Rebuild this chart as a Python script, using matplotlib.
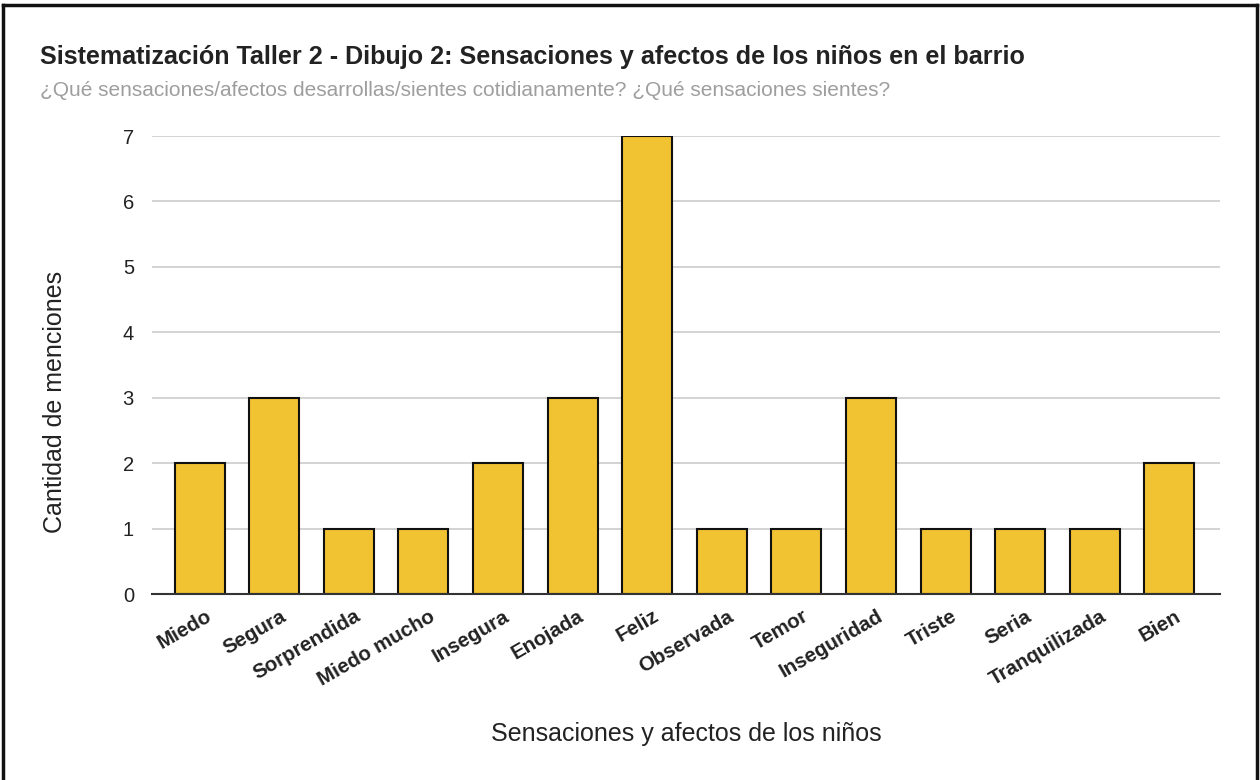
import matplotlib
matplotlib.use("Agg")
import matplotlib.pyplot as plt
from matplotlib.lines import Line2D
from matplotlib.transforms import ScaledTranslation

categories = ["Miedo", "Segura", "Sorprendida", "Miedo mucho", "Insegura", "Enojada",
              "Feliz", "Observada", "Temor", "Inseguridad", "Triste", "Seria",
              "Tranquilizada", "Bien"]
menciones = [2, 3, 1, 1, 2, 3, 7, 1, 1, 3, 1, 1, 1, 2]
y_ticks = [0, 1, 2, 3, 4, 5, 6, 7]

title = "Sistematización Taller 2 - Dibujo 2: Sensaciones y afectos de los niños en el barrio"
subtitle = "¿Qué sensaciones/afectos desarrollas/sientes cotidianamente? ¿Qué sensaciones sientes?"
x_label = "Sensaciones y afectos de los niños"
y_label = "Cantidad de menciones"

plt.rcParams["font.family"] = ["Liberation Sans", "DejaVu Sans"]

fig = plt.figure(figsize=(12.6, 7.8), dpi=100)
W, H = 1260, 780
ax = fig.add_axes([152 / W, 1 - 594 / H, (1220 - 152) / W, (594 - 136) / H])

x = list(range(len(categories)))
ax.bar(x, menciones, width=0.67, color="#f1c232", edgecolor="#111111",
       linewidth=1.5, zorder=3)

ax.set_xlim(-0.64, len(categories) - 1 + 0.68)
ax.set_ylim(0, 7)
ax.set_yticks(y_ticks)
ax.set_yticklabels([str(v) for v in y_ticks], fontsize=14.5, color="#222222")
ax.yaxis.grid(True, color="#cccccc", linewidth=1.2, zorder=0)
ax.set_axisbelow(True)
ax.tick_params(axis="y", length=0, pad=13)
ax.tick_params(axis="x", length=0)

for s in ["top", "right", "left"]:
    ax.spines[s].set_visible(False)
ax.spines["bottom"].set_color("#333333")
ax.spines["bottom"].set_linewidth(1.5)
ax.spines["bottom"].set_zorder(4)

ax.set_xticks(x)
ax.set_xticklabels(categories, rotation=30, ha="right", va="center",
                   rotation_mode="anchor", fontsize=14.8, fontweight="bold",
                   color="#222222")
ax.tick_params(axis="x", pad=15)
shift = ScaledTranslation(10 / 100, 0, fig.dpi_scale_trans)
for lbl in ax.get_xticklabels():
    lbl.set_transform(lbl.get_transform() + shift)

ax.set_ylabel(y_label, fontsize=18, color="#222222")
ax.yaxis.set_label_coords(-0.080, 0.42)
ax.set_xlabel(x_label, fontsize=18, color="#222222")
ax.xaxis.set_label_coords(0.5, -0.28)

fig.text(40 / W, 1 - 57 / H, title, fontsize=18.1, fontweight="bold",
         color="#222222", va="center", ha="left")
fig.text(40 / W, 1 - 90 / H, subtitle, fontsize=15, color="#9e9e9e",
         va="center", ha="left")

# frame around the chart (left, top, right edges)
frame_kw = dict(color="#111111", linewidth=2.5, transform=fig.transFigure)
fig.add_artist(Line2D([3 / W, 3 / W], [0, 1 - 5 / H], **frame_kw))
fig.add_artist(Line2D([3 / W, 1257 / W], [1 - 5 / H, 1 - 5 / H], **frame_kw))
fig.add_artist(Line2D([1257 / W, 1257 / W], [0, 1 - 5 / H], **frame_kw))

fig.savefig("out.png", dpi=100, facecolor="white")
